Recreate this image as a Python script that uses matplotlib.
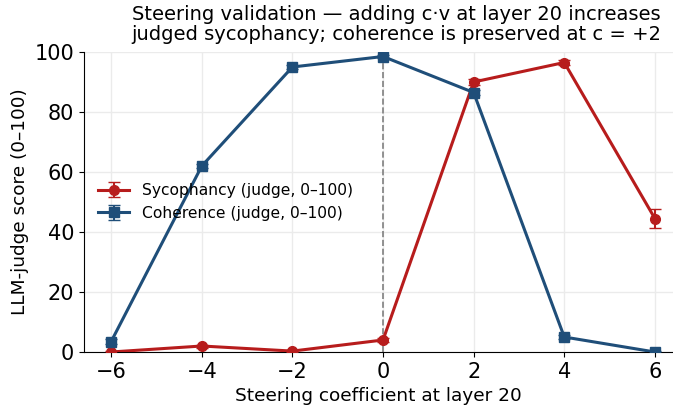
import matplotlib
matplotlib.use("Agg")
import matplotlib.pyplot as plt

coef = [-6, -4, -2, 0, 2, 4, 6]
syc = [0.0, 2.0, 0.3, 4.0, 90.0, 96.5, 44.5]
syc_err = [0.3, 0.5, 0.3, 0.6, 1.0, 0.8, 3.2]
coh = [3.5, 62.0, 95.0, 98.5, 86.5, 5.0, 0.0]
coh_err = [0.8, 0.8, 0.6, 0.5, 0.8, 0.8, 0.2]

red = "#b71c1c"
blue = "#1f4e79"

fig = plt.figure(figsize=(6.73, 4.08), dpi=100)
ax = fig.add_axes([84/673, 1-352/408, (673-84)/673, 300/408])

ax.errorbar(coef, syc, yerr=syc_err, color=red, marker="o", markersize=7, lw=2.2,
            capsize=4, elinewidth=1.5, label="Sycophancy (judge, 0–100)", zorder=3)
ax.errorbar(coef, coh, yerr=coh_err, color=blue, marker="s", markersize=7, lw=2.2,
            capsize=4, elinewidth=1.5, label="Coherence (judge, 0–100)", zorder=3)
ax.axvline(0, color="gray", ls="--", lw=1.2, zorder=2)

ax.set_xlim(-6.6, 6.4)
ax.set_ylim(0, 100)
ax.set_xticks([-6, -4, -2, 0, 2, 4, 6])
ax.set_xticklabels(["−6", "−4", "−2", "0", "2", "4", "6"])
ax.set_yticks([0, 20, 40, 60, 80, 100])
ax.tick_params(labelsize=15)
ax.grid(True, color="#ebebeb", lw=1)
ax.set_axisbelow(True)
for s in ["top", "right"]:
    ax.spines[s].set_visible(False)
ax.set_xlabel("Steering coefficient at layer 20", fontsize=13.3)
ax.set_ylabel("LLM-judge score (0–100)", fontsize=13.3)
ax.set_title("Steering validation — adding c·v at layer 20 increases\njudged sycophancy; coherence is preserved at c = +2",
             fontsize=14, pad=9, linespacing=1.0, x=0.531)
ax.legend(loc="center left", bbox_to_anchor=(0.0, 0.5), frameon=False, fontsize=11.2)

fig.savefig("out.png", dpi=100)
